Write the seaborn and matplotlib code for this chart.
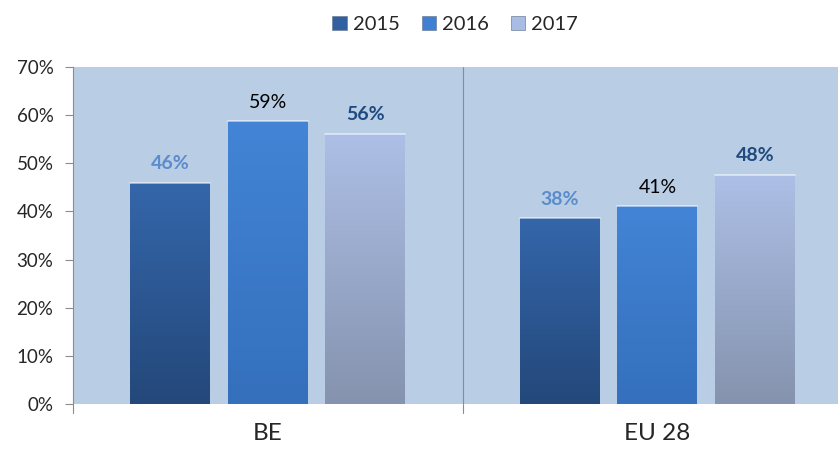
import numpy as np
import pandas as pd
import matplotlib
matplotlib.use("Agg")
import matplotlib.pyplot as plt
import seaborn as sns
from matplotlib.colors import LinearSegmentedColormap
from matplotlib.patches import Patch

categories = ["BE", "EU 28"]
years = ["2015", "2016", "2017"]
values_2015 = [0.459, 0.386]
values_2016 = [0.587, 0.411]
values_2017 = [0.561, 0.476]
labels_2015 = ["46%", "38%"]
labels_2016 = ["59%", "41%"]
labels_2017 = ["56%", "48%"]
yticks = [0, 0.1, 0.2, 0.3, 0.4, 0.5, 0.6, 0.7]
ytick_labels = ["0%", "10%", "20%", "30%", "40%", "50%", "60%", "70%"]

df = pd.DataFrame({
    "cat": categories * 3,
    "year": [years[0]] * 2 + [years[1]] * 2 + [years[2]] * 2,
    "val": values_2015 + values_2016 + values_2017,
})
all_labels = [labels_2015, labels_2016, labels_2017]

base_colors = {"2015": "#30609F", "2016": "#3F80D2", "2017": "#A9BCE3"}
grad = {
    "2015": ("#3466AA", "#24487A"),
    "2016": ("#4384D6", "#3470BC"),
    "2017": ("#ADBFE6", "#8593AE"),
}
label_style = {
    "2015": dict(color="#5B8CCB", fontweight="bold"),
    "2016": dict(color="black", fontweight="normal"),
    "2017": dict(color="#1F4A80", fontweight="bold"),
}

sns.set_style("white")
plt.rcParams["font.family"] = ["Lato", "DejaVu Sans"]

fig = plt.figure(figsize=(8.38, 4.59), dpi=100)
ax = fig.add_axes([0.087, 0.12, 0.93, 0.734])
ax.set_facecolor("#B9CDE5")

sns.barplot(data=df, x="cat", y="val", hue="year", order=categories,
            hue_order=years, palette=base_colors, width=0.75, gap=0.18,
            ax=ax, legend=False, saturation=1, edgecolor="none")

for yi, cont in enumerate(ax.containers):
    yr = years[yi]
    cmap = LinearSegmentedColormap.from_list(yr, [grad[yr][1], grad[yr][0]])
    for bi, bar in enumerate(cont):
        x0, y0 = bar.get_x(), bar.get_y()
        w, h = bar.get_width(), bar.get_height()
        bar.set_facecolor("none")
        im = ax.imshow(np.linspace(0, 1, 100).reshape(-1, 1), cmap=cmap,
                       origin="lower", aspect="auto",
                       extent=[x0, x0 + w, y0, y0 + h], zorder=2)
        im.set_clip_path(bar)
        ax.plot([x0, x0 + w], [y0 + h, y0 + h], color="white", lw=1.2,
                alpha=0.6, zorder=3)
        ax.text(x0 + w / 2, y0 + h + 0.022, all_labels[yi][bi],
                ha="center", va="bottom", fontsize=14, **label_style[yr])

ax.set_xlim(-0.5, 1.5)
ax.set_ylim(0, 0.7)
ax.set_yticks(yticks)
ax.set_yticklabels(ytick_labels, fontsize=13.5)
ax.set_xticks([0, 1])
ax.set_xticklabels(categories, fontsize=17.5)
ax.tick_params(axis="x", length=0, pad=14)
ax.tick_params(axis="y", length=6, color="#8C8C8C", left=True, pad=8)
ax.set_xlabel("")
ax.set_ylabel("")

for s in ["top", "right", "bottom"]:
    ax.spines[s].set_visible(False)
ax.spines["left"].set_color("#8C8C8C")
ax.spines["left"].set_linewidth(0.8)

ax.axvline(0.5, color="#8C8C8C", lw=0.8, zorder=1)
ax.plot([0.5, 0.5], [0, -0.018], color="#8C8C8C", lw=0.8, clip_on=False)
ax.plot([-0.5, -0.5], [0, -0.018], color="#8C8C8C", lw=0.8, clip_on=False)

handles = [Patch(facecolor=base_colors[y], edgecolor="#6F7F99", lw=0.5, label=y)
           for y in years]
fig.legend(handles=handles, loc="upper center", bbox_to_anchor=(0.543, 1.005),
           ncol=3, frameon=False, fontsize=14.5, handlelength=0.7,
           handleheight=0.7, handletextpad=0.3, columnspacing=1.1)

fig.savefig("out.png", dpi=100)
